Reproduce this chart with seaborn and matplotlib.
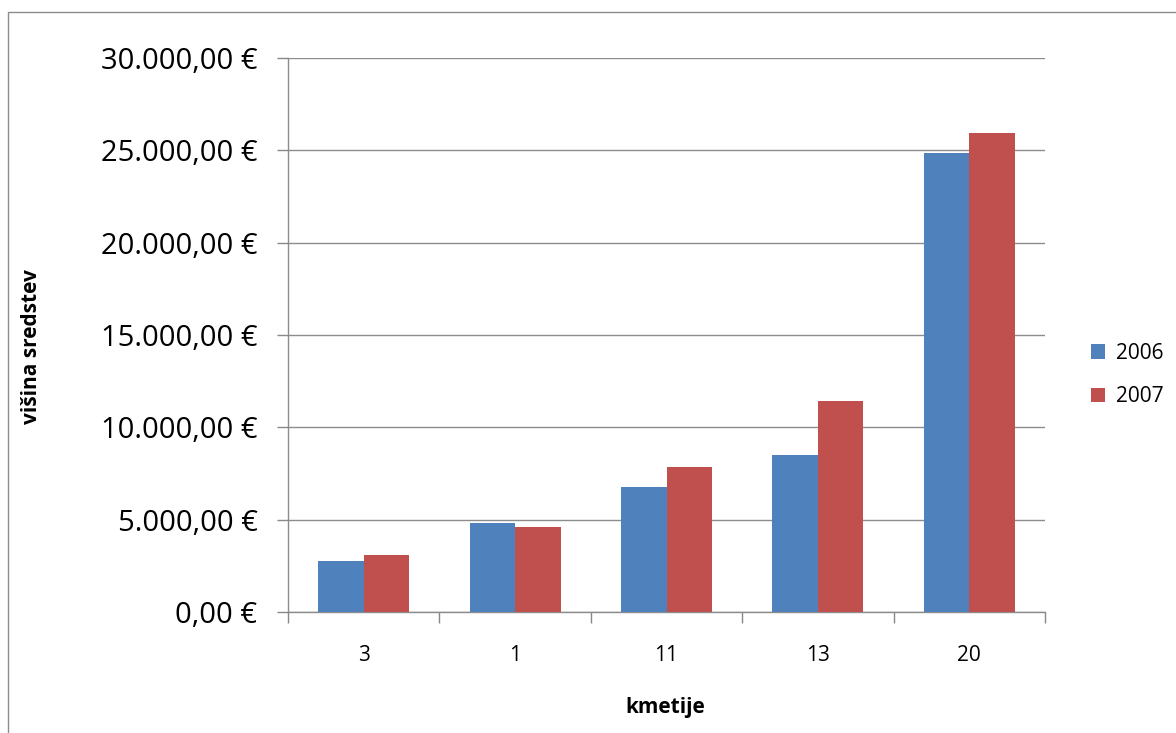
import pandas as pd
import seaborn as sns
import matplotlib.pyplot as plt
from matplotlib.patches import Rectangle
from matplotlib.ticker import FuncFormatter, FixedLocator

# --- podatki ---
kmetije = ['3', '1', '11', '13', '20']
leta = ['2006', '2007']
vrednosti_2006 = [2760, 4820, 6770, 8500, 24850]
vrednosti_2007 = [3090, 4600, 7850, 11420, 25930]
barve = ['#4F81BD', '#C0504D']

df = pd.DataFrame({
    'kmetija': kmetije * 2,
    'leto': [leta[0]] * len(kmetije) + [leta[1]] * len(kmetije),
    'sredstva': vrednosti_2006 + vrednosti_2007,
})

sns.set_style('white')
plt.rcParams['font.family'] = ['Open Sans', 'DejaVu Sans']
plt.rcParams['text.color'] = 'black'
plt.rcParams['axes.labelcolor'] = 'black'
plt.rcParams['xtick.labelcolor'] = 'black'
plt.rcParams['ytick.labelcolor'] = 'black'

fig = plt.figure(figsize=(11.76, 7.33), dpi=100)
ax = fig.add_axes([288 / 1176, 1 - 612 / 733, 757 / 1176, 554 / 733])

sns.barplot(data=df, x='kmetija', y='sredstva', hue='leto', order=kmetije,
            hue_order=leta, palette=barve, width=0.6, saturation=1,
            errorbar=None, ax=ax, zorder=3, linewidth=0)

ax.set_ylim(0, 30000)
ax.set_xlim(-0.5, len(kmetije) - 0.5)
ax.set_yticks(range(0, 30001, 5000))


def evro(v, pos):
    s = f'{v:,.2f}'.replace(',', 'X').replace('.', ',').replace('X', '.')
    return s + ' €'


ax.yaxis.set_major_formatter(FuncFormatter(evro))
ax.tick_params(axis='y', labelsize=21, length=8, width=1, color='#888888',
               direction='out', left=True, pad=14)
ax.tick_params(axis='x', which='major', labelsize=15, length=0, pad=24)
ax.xaxis.set_minor_locator(FixedLocator([i - 0.5 for i in range(len(kmetije) + 1)]))
ax.tick_params(axis='x', which='minor', length=8, width=1, color='#888888',
               direction='out', bottom=True)

ax.yaxis.grid(True, color='#8c8c8c', linewidth=1, zorder=0)
ax.set_axisbelow(True)
for s in ['top', 'right']:
    ax.spines[s].set_visible(False)
for s in ['left', 'bottom']:
    ax.spines[s].set_color('#8c8c8c')
    ax.spines[s].set_linewidth(1)

ax.set_xlabel('kmetije', fontsize=15, fontweight='bold')
ax.set_ylabel('višina sredstev', fontsize=15, fontweight='bold')
ax.xaxis.set_label_coords(0.498, -0.153)
ax.yaxis.set_label_coords(-0.325, 0.48)

ax.legend(loc='center left', bbox_to_anchor=(1072 / 1176, 1 - 375 / 733),
          bbox_transform=fig.transFigure, frameon=False, fontsize=15,
          handlelength=0.7, handleheight=0.7, labelspacing=1.1,
          handletextpad=0.5, title=None)

# okvir grafa
fig.patches.append(Rectangle((8 / 1176, -0.05), 1.05, 1 - 12 / 733 + 0.05,
                             transform=fig.transFigure, fill=False,
                             edgecolor='#8c8c8c', linewidth=1))

fig.savefig('out.png', dpi=100)
